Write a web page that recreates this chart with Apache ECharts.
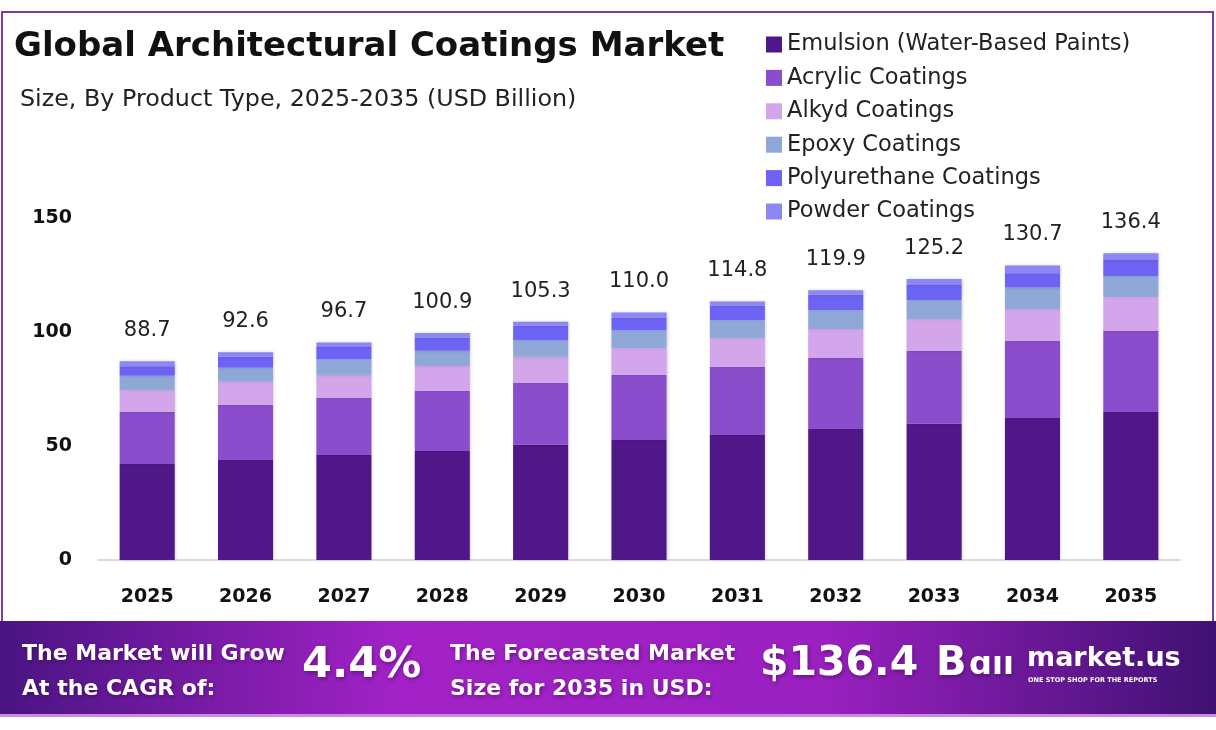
<!DOCTYPE html>
<html>
<head>
<meta charset="utf-8">
<script src="https://cdn.jsdelivr.net/npm/echarts@6/dist/echarts.min.js"></script>
<style>
  html, body { margin: 0; padding: 0; background: #fff; }
  #main { width: 1216px; height: 730px; }
</style>
</head>
<body>
<div id="main"></div>
<script>
var years = ['2025', '2026', '2027', '2028', '2029', '2030', '2031', '2032', '2033', '2034', '2035'];
var totals = [88.7, 92.6, 96.7, 100.9, 105.3, 110.0, 114.8, 119.9, 125.2, 130.7, 136.4];
var emulsion = [42.1, 43.9, 46.1, 47.8, 50.6, 52.6, 54.8, 57.5, 59.8, 62.3, 64.9];
var acrylic = [22.9, 24.1, 24.9, 26.3, 27.0, 28.5, 29.8, 31.1, 32.0, 33.8, 35.5];
var alkyd = [9.5, 10.2, 10.2, 11.0, 11.5, 11.8, 12.6, 12.7, 13.9, 14.0, 14.8];
var epoxy = [6.3, 6.1, 6.9, 6.7, 7.3, 7.9, 8.0, 8.3, 8.3, 9.4, 9.4];
var polyurethane = [4.2, 4.8, 5.3, 5.8, 6.3, 5.6, 6.3, 6.7, 6.6, 6.3, 7.0];
var powder = [2.2, 2.0, 2.0, 2.0, 1.8, 2.2, 1.9, 2.0, 2.6, 3.4, 2.9];
var yTicks = [0, 50, 100, 150];

var names = ['Emulsion (Water-Based Paints)', 'Acrylic Coatings', 'Alkyd Coatings',
             'Epoxy Coatings', 'Polyurethane Coatings', 'Powder Coatings'];
var colors = ['#4f1787', '#8a4dcc', '#d3a5ea', '#8fa8d8', '#6d63f4', '#8c86f6'];
var values = [emulsion, acrylic, alkyd, epoxy, polyurethane, powder];

var FONT = '"DejaVu Sans"';
var myChart = echarts.init(document.getElementById('main'));

var series = names.map(function (n, i) {
    var s = {
        name: n,
        type: 'bar',
        stack: 'total',
        barWidth: '56%',
        data: values[i],
        itemStyle: {
            color: colors[i],
            shadowColor: 'rgba(0,0,0,0.18)',
            shadowBlur: 3,
            shadowOffsetX: 1
        }
    };
    if (i === names.length - 1) {
        // 总量标签放在最上层
        s.label = {
            show: true,
            position: 'top',
            distance: 20,
            color: '#222',
            fontSize: 21,
            fontFamily: FONT,
            formatter: function (p) { return totals[p.dataIndex].toFixed(1); }
        };
    }
    return s;
});

var shadow = { textShadowColor: 'rgba(40,0,60,0.45)', textShadowBlur: 4, textShadowOffsetX: 1, textShadowOffsetY: 2 };

option = {
    backgroundColor: '#fff',
    color: colors,
    title: [
        {
            text: 'Global Architectural Coatings Market',
            left: 9,
            top: 25,
            textStyle: { fontSize: 34, fontWeight: 'bold', color: '#111', fontFamily: FONT }
        },
        {
            text: 'Size, By Product Type, 2025-2035 (USD Billion)',
            left: 15,
            top: 83,
            textStyle: { fontSize: 23.8, fontWeight: 'normal', color: '#222', fontFamily: FONT }
        }
    ],
    legend: {
        orient: 'vertical',
        left: 761,
        top: 28,
        itemWidth: 16,
        itemHeight: 16,
        itemGap: 10.4,
        icon: 'rect',
        data: names,
        textStyle: { fontSize: 22.5, color: '#222', fontFamily: FONT, lineHeight: 23 }
    },
    grid: {
        left: 98,
        right: 36,
        top: 218,
        bottom: 170
    },
    xAxis: {
        type: 'category',
        data: years,
        axisTick: { show: false },
        axisLine: { lineStyle: { color: '#cfcfcf', width: 1.5 } },
        axisLabel: { color: '#111', fontSize: 19, fontWeight: 'bold', margin: 28, fontFamily: FONT }
    },
    yAxis: {
        type: 'value',
        min: yTicks[0],
        max: yTicks[yTicks.length - 1],
        interval: 50,
        axisLine: { show: false },
        axisTick: { show: false },
        splitLine: { show: false },
        axisLabel: { color: '#111', fontSize: 19, fontWeight: 'bold', margin: 26, fontFamily: FONT }
    },
    series: series,
    graphic: [
        // 外框
        {
            type: 'rect',
            shape: { x: 2, y: 12, width: 1211, height: 612 },
            style: { fill: 'none', stroke: '#7b3aa8', lineWidth: 2 },
            z: -1
        },
        // 底部横幅
        {
            type: 'rect',
            shape: { x: 0, y: 621, width: 1216, height: 95 },
            style: {
                fill: new echarts.graphic.LinearGradient(0, 0, 1, 0, [
                    { offset: 0, color: '#4a1482' },
                    { offset: 0.33, color: '#a322c7' },
                    { offset: 0.68, color: '#9a20c0' },
                    { offset: 1, color: '#3f1172' }
                ])
            }
        },
        {
            type: 'rect',
            shape: { x: 0, y: 714, width: 1216, height: 3 },
            style: { fill: '#c98ae0' }
        },
        {
            type: 'text', left: 22, top: 637,
            style: Object.assign({ text: 'The Market will Grow\nAt the CAGR of:', fill: '#fff', font: 'bold 22px ' + FONT, lineHeight: 35 }, shadow)
        },
        {
            type: 'text', left: 302, top: 644,
            style: Object.assign({ text: '4.4%', fill: '#fff', font: 'bold 43px ' + FONT }, shadow)
        },
        {
            type: 'text', left: 450, top: 637,
            style: Object.assign({ text: 'The Forecasted Market\nSize for 2035 in USD:', fill: '#fff', font: 'bold 22px ' + FONT, lineHeight: 35 }, shadow)
        },
        {
            type: 'text', left: 760, top: 644,
            style: Object.assign({ text: '$136.4', fill: '#fff', font: 'bold 41px ' + FONT }, shadow)
        },
        {
            type: 'text', left: 936, top: 645,
            style: Object.assign({ text: 'B', fill: '#fff', font: 'bold 40px ' + FONT }, shadow)
        },
        {
            type: 'text', left: 969, top: 650,
            style: Object.assign({ text: 'ɑıı', fill: '#fff', font: 'bold 32px ' + FONT }, shadow)
        },
        {
            type: 'text', left: 1027, top: 645,
            style: { text: 'market.us', fill: '#fff', font: 'bold 27px ' + FONT }
        },
        {
            type: 'text', left: 1028, top: 677,
            style: { text: 'ONE STOP SHOP FOR THE REPORTS', fill: '#fff', font: 'bold 6.5px ' + FONT }
        }
    ]
};

myChart.setOption(option);
</script>
</body>
</html>
